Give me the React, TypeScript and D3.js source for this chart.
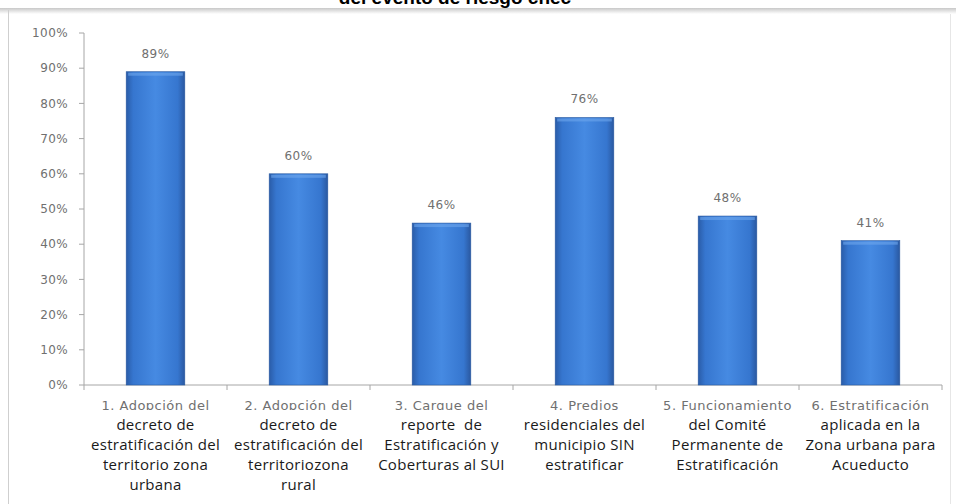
import React from "react";
import * as d3 from "d3";

const categories = ["c1", "c2", "c3", "c4", "c5", "c6"];
const values = [89, 60, 46, 76, 48, 41];
const valueLabels = ["89%", "60%", "46%", "76%", "48%", "41%"];
const yTicks = [0, 10, 20, 30, 40, 50, 60, 70, 80, 90, 100];
const labelFirst = [
  "1. Adopción del",
  "2. Adopción del",
  "3. Cargue del",
  "4. Predios",
  "5. Funcionamiento",
  "6. Estratificación",
];
const labelRest = [
  ["decreto de", "estratificación del", "territorio zona", "urbana"],
  ["decreto de", "estratificación del", "territoriozona", "rural"],
  ["reporte  de", "Estratificación y", "Coberturas al SUI"],
  ["residenciales del", "municipio SIN", "estratificar"],
  ["del Comité", "Permanente de", "Estratificación"],
  ["aplicada en la", "Zona urbana para", "Acueducto"],
];
const title = "del evento de riesgo chec";

export default function App() {
  const W = 956, H = 504;
  const x0 = 84, x1 = 942, yTop = 33, yBot = 385;
  const x = d3.scaleBand().domain(categories).range([x0, x1]).paddingInner(0.59).paddingOuter(0.295);
  const y = d3.scaleLinear().domain([0, 100]).range([yBot, yTop]);
  const step = x.step();
  const gray = "#707070";
  return (
    <svg width={W} height={H} style={{ position: "absolute", left: 0, top: 0, background: "#fff" }}>
      <defs>
        <linearGradient id="barg" x1="0" x2="1" y1="0" y2="0">
          <stop offset="0" stopColor="#2a5ca8" />
          <stop offset="0.12" stopColor="#3676cf" />
          <stop offset="0.5" stopColor="#468ae2" />
          <stop offset="0.88" stopColor="#3676cf" />
          <stop offset="1" stopColor="#2a58a0" />
        </linearGradient>
        <linearGradient id="shadow" x1="0" x2="0" y1="0" y2="1">
          <stop offset="0" stopColor="#c8c8c8" />
          <stop offset="1" stopColor="#ffffff" />
        </linearGradient>
        <clipPath id="firstline">
          <rect x={0} y={390} width={W} height={20} />
        </clipPath>
      </defs>
      <rect x={0} y={0} width={W} height={H} fill="#fff" />
      <text x={455} y={4} textAnchor="middle" fontFamily="Liberation Sans, Arial, sans-serif" fontWeight="bold" fontSize={19} fill="#000">{title}</text>
      <rect x={0} y={8} width={W} height={6} fill="url(#shadow)" />
      <line x1={8.5} y1={10} x2={8.5} y2={H} stroke="#cfcfcf" />
      <line x1={950.5} y1={14} x2={950.5} y2={H} stroke="#e6e6e6" />
      {/* y axis */}
      <line x1={x0} y1={yTop} x2={x0} y2={yBot} stroke="#a6a6a6" />
      {yTicks.map((t) => (
        <g key={t}>
          <line x1={x0 - 5} x2={x0} y1={y(t)} y2={y(t)} stroke="#a6a6a6" />
          <text x={68} y={y(t)} dy="0.35em" textAnchor="end" fontFamily="DejaVu Sans, Verdana, sans-serif" fontSize={12} letterSpacing={0.4} fill={gray}>{t + "%"}</text>
        </g>
      ))}
      {/* x axis */}
      <line x1={x0} y1={yBot} x2={x1} y2={yBot} stroke="#a6a6a6" />
      {d3.range(categories.length + 1).map((i) => (
        <line key={i} x1={x0 + i * step} x2={x0 + i * step} y1={yBot} y2={yBot + 5} stroke="#a6a6a6" />
      ))}
      {/* bars */}
      {categories.map((c, i) => {
        const bx = x(c)!;
        const bw = x.bandwidth();
        const by = y(values[i]);
        return (
          <g key={c}>
            <rect x={bx} y={by} width={bw} height={yBot - by} fill="url(#barg)" stroke="#2a5aa0" strokeWidth={0.6} />
            <rect x={bx + 2} y={by + 1} width={bw - 4} height={3} fill="#6ea6ec" opacity={0.6} />
            <text x={bx + bw / 2} y={by - 14} textAnchor="middle" fontFamily="DejaVu Sans, Verdana, sans-serif" fontSize={12} letterSpacing={0.4} fill={gray}>{valueLabels[i]}</text>
          </g>
        );
      })}
      {/* x labels */}
      {categories.map((c, i) => {
        const cx = x(c)! + x.bandwidth() / 2;
        return (
          <g key={"l" + c}>
            <text x={cx} y={405} dy="0.35em" textAnchor="middle" clipPath="url(#firstline)" fontFamily="DejaVu Sans, Verdana, sans-serif" fontSize={13} letterSpacing={0.5} fill={gray}>{labelFirst[i]}</text>
            {labelRest[i].map((s, j) => (
              <text key={j} x={cx} y={425 + j * 20} dy="0.35em" textAnchor="middle" fontFamily="Open Sans, sans-serif" fontSize={15} letterSpacing={0.3} fill="#1a1a1a" style={{ whiteSpace: "pre" }}>{s}</text>
            ))}
          </g>
        );
      })}
    </svg>
  );
}
